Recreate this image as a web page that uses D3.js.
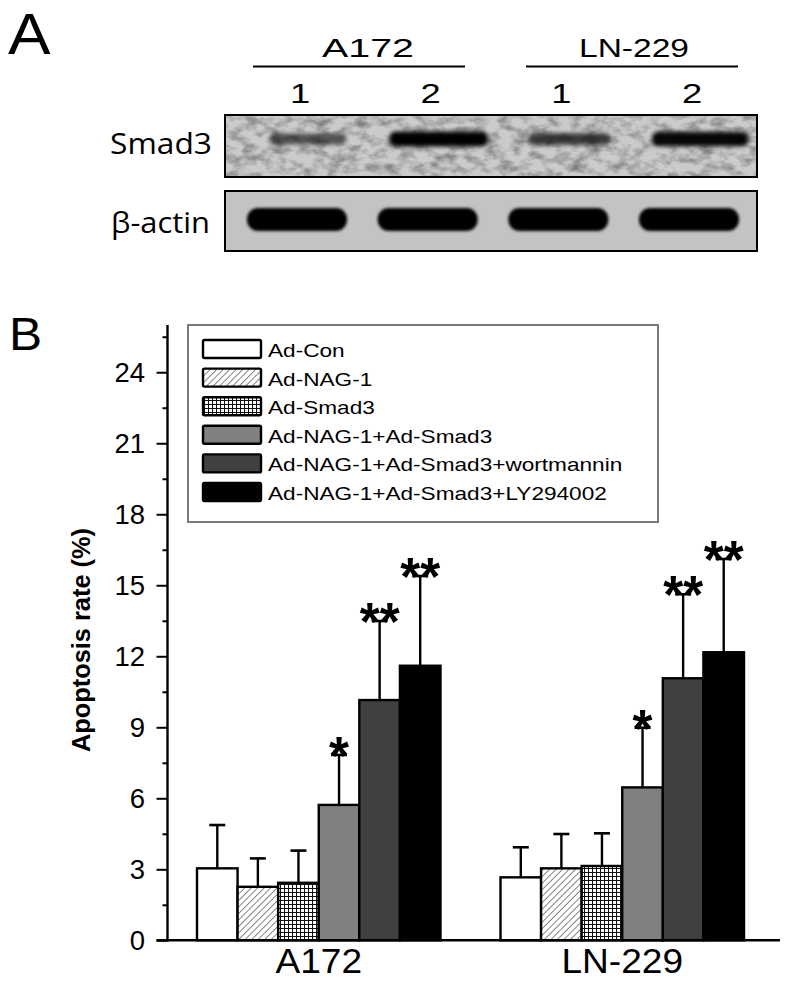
<!DOCTYPE html>
<html>
<head>
<meta charset="utf-8">
<script src="https://cdn.jsdelivr.net/npm/d3@7"></script>
<style>
  html, body { margin: 0; padding: 0; background: #ffffff; }
  svg { display: block; }
</style>
</head>
<body>
<script>
// ---------------- DATA ----------------
const groups = ["A172", "LN-229"];
const series = [
  "Ad-Con",
  "Ad-NAG-1",
  "Ad-Smad3",
  "Ad-NAG-1+Ad-Smad3",
  "Ad-NAG-1+Ad-Smad3+wortmannin",
  "Ad-NAG-1+Ad-Smad3+LY294002"
];
const a172Means   = [3.04, 2.26, 2.43, 5.72, 10.15, 11.60];
const a172Errors  = [1.83, 1.20, 1.36, 2.11, 3.34, 3.79];
const ln229Means  = [2.66, 3.04, 3.14, 6.46, 11.07, 12.17];
const ln229Errors = [1.27, 1.45, 1.38, 2.52, 3.55, 3.94];
const a172Signif  = ["", "", "", "*", "**", "**"];
const ln229Signif = ["", "", "", "*", "**", "**"];
const yTicks = [0, 3, 6, 9, 12, 15, 18, 21, 24];
const yLabel = "Apoptosis rate (%)";

// western blot (panel A)
const blotGroups = ["A172", "LN-229"];
const laneLabels = ["1", "2", "1", "2"];
const laneGroup  = ["A172", "A172", "LN-229", "LN-229"];
const blotRows   = ["Smad3", "β-actin"];
const smad3Intensity = [0.45, 1.0, 0.6, 0.95];
const actinIntensity = [1.0, 1.0, 1.0, 1.0];

// ---------------- SETUP ----------------
const W = 789, H = 984;
const FONT = "'Liberation Sans', Arial, sans-serif";
const svg = d3.select("body").append("svg").attr("width", W).attr("height", H);
const defs = svg.append("defs");

function label(sel, o) {
  const t = sel.append("text")
    .attr("font-family", o.family || FONT)
    .attr("font-size", o.size)
    .attr("font-weight", o.weight || "normal")
    .attr("text-anchor", o.anchor || "start")
    .attr("fill", o.fill || "#000")
    .text(o.text);
  let s = o.sx || 1;
  if (o.width) s = o.width / t.node().getComputedTextLength();
  const rot = o.rotate ? ` rotate(${o.rotate})` : "";
  t.attr("transform", `translate(${o.x},${o.y})${rot} scale(${s},1)`);
  return t;
}

// patterns
const hatch = defs.append("pattern").attr("id", "hatch")
  .attr("patternUnits", "userSpaceOnUse").attr("width", 4.6).attr("height", 4.6)
  .attr("patternTransform", "rotate(45)");
hatch.append("rect").attr("width", 4.6).attr("height", 4.6).attr("fill", "#fff");
hatch.append("line").attr("x1", 0).attr("y1", 0).attr("x2", 0).attr("y2", 4.6)
  .attr("stroke", "#444").attr("stroke-width", 1.3);

const grid = defs.append("pattern").attr("id", "grid")
  .attr("patternUnits", "userSpaceOnUse").attr("width", 4).attr("height", 4);
grid.append("rect").attr("width", 4).attr("height", 4).attr("fill", "#fff");
grid.append("path").attr("d", "M0,0.5H4M0.5,0V4").attr("stroke", "#111").attr("stroke-width", 1.1);

const fills = ["#ffffff", "url(#hatch)", "url(#grid)", "#808080", "#404040", "#000000"];

// filters
const noise = defs.append("filter").attr("id", "noise")
  .attr("x", 0).attr("y", 0).attr("width", "100%").attr("height", "100%");
noise.append("feTurbulence").attr("type", "fractalNoise")
  .attr("baseFrequency", "0.07 0.11").attr("numOctaves", 3).attr("seed", 7);
noise.append("feColorMatrix").attr("type", "matrix")
  .attr("values", "0 0 0 0 0  0 0 0 0 0  0 0 0 0 0  1.8 0 0 0 -0.72");

const blur = defs.append("filter").attr("id", "blur")
  .attr("x", "-30%").attr("y", "-60%").attr("width", "160%").attr("height", "220%");
blur.append("feGaussianBlur").attr("stdDeviation", 2.2);

const blur2 = defs.append("filter").attr("id", "blur2")
  .attr("x", "-30%").attr("y", "-60%").attr("width", "160%").attr("height", "220%");
blur2.append("feGaussianBlur").attr("stdDeviation", 1.4);

// ---------------- PANEL A ----------------
const gA = svg.append("g");
label(gA, { text: "A", x: 8, y: 54, size: 57, sx: 1.12 });

const laneX = d3.scalePoint().domain(d3.range(laneLabels.length)).range([300, 692]);
const groupX = d3.scalePoint().domain(blotGroups).range([359, 632]);

blotGroups.forEach((g, i) => {
  gA.append("line")
    .attr("x1", groupX(g) - 106).attr("x2", groupX(g) + 106)
    .attr("y1", 66.5).attr("y2", 66.5)
    .attr("stroke", "#000").attr("stroke-width", 1.8);
  label(gA, { text: g, x: groupX(g) + (i === 0 ? 9 : 2), y: 57, size: 26.5,
              anchor: "middle", width: i === 0 ? 92 : 110 });
});
laneLabels.forEach((l, i) => {
  label(gA, { text: l, x: laneX(i), y: 103, size: 28, anchor: "middle", sx: 1.3 });
});

// blot boxes
const blotBox = { x: 225, w: 532 };
const rowsY = [{ y: 115, h: 62, cy: 139 }, { y: 191, h: 60, cy: 219 }];

// Smad3 blot
const b1 = gA.append("g");
b1.append("rect").attr("x", blotBox.x).attr("y", rowsY[0].y)
  .attr("width", blotBox.w).attr("height", rowsY[0].h).attr("fill", "#cbcbcb");
b1.append("rect").attr("x", blotBox.x).attr("y", rowsY[0].y)
  .attr("width", blotBox.w).attr("height", rowsY[0].h).attr("fill", "#000")
  .attr("filter", "url(#noise)").attr("opacity", 0.45);
b1.selectAll("rect.band").data(smad3Intensity).join("rect")
  .attr("class", "band")
  .attr("x", (d, i) => laneX(i) + 8 - (60 + 38 * d) / 2)
  .attr("y", d => rowsY[0].cy - (8 + 7 * d) / 2)
  .attr("width", d => 60 + 38 * d)
  .attr("height", d => 8 + 7 * d)
  .attr("rx", 6)
  .attr("fill", "#000")
  .attr("opacity", d => 0.25 + 0.75 * d)
  .attr("filter", "url(#blur)");
b1.append("rect").attr("x", blotBox.x).attr("y", rowsY[0].y)
  .attr("width", blotBox.w).attr("height", rowsY[0].h)
  .attr("fill", "none").attr("stroke", "#000").attr("stroke-width", 2);

// beta-actin blot
const b2 = gA.append("g");
b2.append("rect").attr("x", blotBox.x).attr("y", rowsY[1].y)
  .attr("width", blotBox.w).attr("height", rowsY[1].h).attr("fill", "#c3c3c3");
b2.selectAll("rect.band").data(actinIntensity).join("rect")
  .attr("class", "band")
  .attr("x", (d, i) => laneX(i) - 3 - 50 * d)
  .attr("y", rowsY[1].cy - 11)
  .attr("width", d => 100 * d)
  .attr("height", 23)
  .attr("rx", 11)
  .attr("fill", "#000")
  .attr("filter", "url(#blur2)");
b2.append("rect").attr("x", blotBox.x).attr("y", rowsY[1].y)
  .attr("width", blotBox.w).attr("height", rowsY[1].h)
  .attr("fill", "none").attr("stroke", "#000").attr("stroke-width", 2);

label(gA, { text: blotRows[0], x: 212, y: 154, size: 30, anchor: "end",
            family: "'Open Sans', 'Noto Sans', sans-serif", width: 102 });
label(gA, { text: blotRows[1], x: 210, y: 233, size: 30, anchor: "end",
            family: "'Open Sans', 'Noto Sans', sans-serif", width: 99 });

// ---------------- PANEL B ----------------
const gB = svg.append("g");
label(gB, { text: "B", x: 9, y: 350, size: 46, sx: 1.08 });

const axisX = 167.5;
const y = d3.scaleLinear().domain([0, 26]).range([940.3, 324.9]);
const x0 = d3.scaleBand().domain(groups).range([197, 744]).paddingInner(0.1977).paddingOuter(0);
const x1 = d3.scaleBand().domain(series).range([0, x0.bandwidth()]).padding(0);

const means = { "A172": a172Means, "LN-229": ln229Means };
const errs  = { "A172": a172Errors, "LN-229": ln229Errors };
const sigs  = { "A172": a172Signif, "LN-229": ln229Signif };

const barData = [];
groups.forEach(g => series.forEach((s, i) => barData.push({
  g, s, i, v: means[g][i], e: errs[g][i], sig: sigs[g][i]
})));

const bars = gB.append("g");
// error bars first (behind bars)
const eb = bars.append("g");
barData.forEach(d => {
  const cx = x0(d.g) + x1(d.s) + x1.bandwidth() / 2;
  eb.append("line").attr("x1", cx).attr("x2", cx)
    .attr("y1", y(d.v)).attr("y2", y(d.v + d.e))
    .attr("stroke", "#000").attr("stroke-width", 2.4);
  eb.append("line").attr("x1", cx - 8).attr("x2", cx + 8)
    .attr("y1", y(d.v + d.e)).attr("y2", y(d.v + d.e))
    .attr("stroke", "#000").attr("stroke-width", 2.6);
});
bars.selectAll("rect.bar").data(barData).join("rect")
  .attr("class", "bar")
  .attr("x", d => x0(d.g) + x1(d.s))
  .attr("y", d => y(d.v))
  .attr("width", x1.bandwidth())
  .attr("height", d => y(0) - y(d.v))
  .attr("fill", d => fills[d.i])
  .attr("stroke", "#000").attr("stroke-width", 2.4);

// significance stars
barData.filter(d => d.sig).forEach(d => {
  const cx = x0(d.g) + x1(d.s) + x1.bandwidth() / 2;
  label(gB, { text: d.sig, x: cx, y: y(d.v + d.e) + 19, size: 54, anchor: "middle",
              weight: "bold", sx: 0.95 });
});

// axes
const yAxis = d3.axisLeft(y).tickValues(yTicks).tickSize(11).tickFormat(d3.format("d"));
const yMinor = d3.axisLeft(y).tickValues(d3.range(1.5, 26, 3)).tickSize(5).tickFormat("");
const ga = gB.append("g").attr("transform", `translate(${axisX},0)`).call(yAxis);
const gm = gB.append("g").attr("transform", `translate(${axisX},0)`).call(yMinor);
[ga, gm].forEach(g => {
  g.select(".domain").remove();
  g.selectAll(".tick line").attr("stroke", "#000").attr("stroke-width", 2);
});
ga.selectAll(".tick text").remove();
yTicks.forEach(t => {
  label(gB, { text: String(t), x: 145, y: y(t) + 10, size: 27.5, anchor: "end" });
});
gB.append("line").attr("x1", axisX).attr("x2", axisX)
  .attr("y1", y(26)).attr("y2", y(0) + 1.2)
  .attr("stroke", "#000").attr("stroke-width", 2.4);
gB.append("line").attr("x1", axisX - 11).attr("x2", 780)
  .attr("y1", y(0)).attr("y2", y(0))
  .attr("stroke", "#000").attr("stroke-width", 2.4);

// x labels
groups.forEach(g => {
  label(gB, { text: g, x: x0(g) + x0.bandwidth() / 2, y: 973, size: 35, anchor: "middle", sx: 1.06 });
});

// y title
label(gB, { text: yLabel, x: 90, y: 640, size: 26, weight: "bold", anchor: "middle",
            rotate: -90, width: 224 });

// legend
const lg = gB.append("g");
lg.append("rect").attr("x", 188).attr("y", 325).attr("width", 470).attr("height", 197)
  .attr("fill", "#fff").attr("stroke", "#7a7a7a").attr("stroke-width", 2);
series.forEach((s, i) => {
  const ty = 340 + i * 28.6;
  lg.append("rect").attr("x", 203).attr("y", ty).attr("width", 58).attr("height", 18)
    .attr("rx", 1.5)
    .attr("fill", fills[i]).attr("stroke", "#000").attr("stroke-width", 2.4);
  label(lg, { text: s, x: 268, y: ty + 17, size: 19, sx: 1.19 });
});
</script>
</body>
</html>
